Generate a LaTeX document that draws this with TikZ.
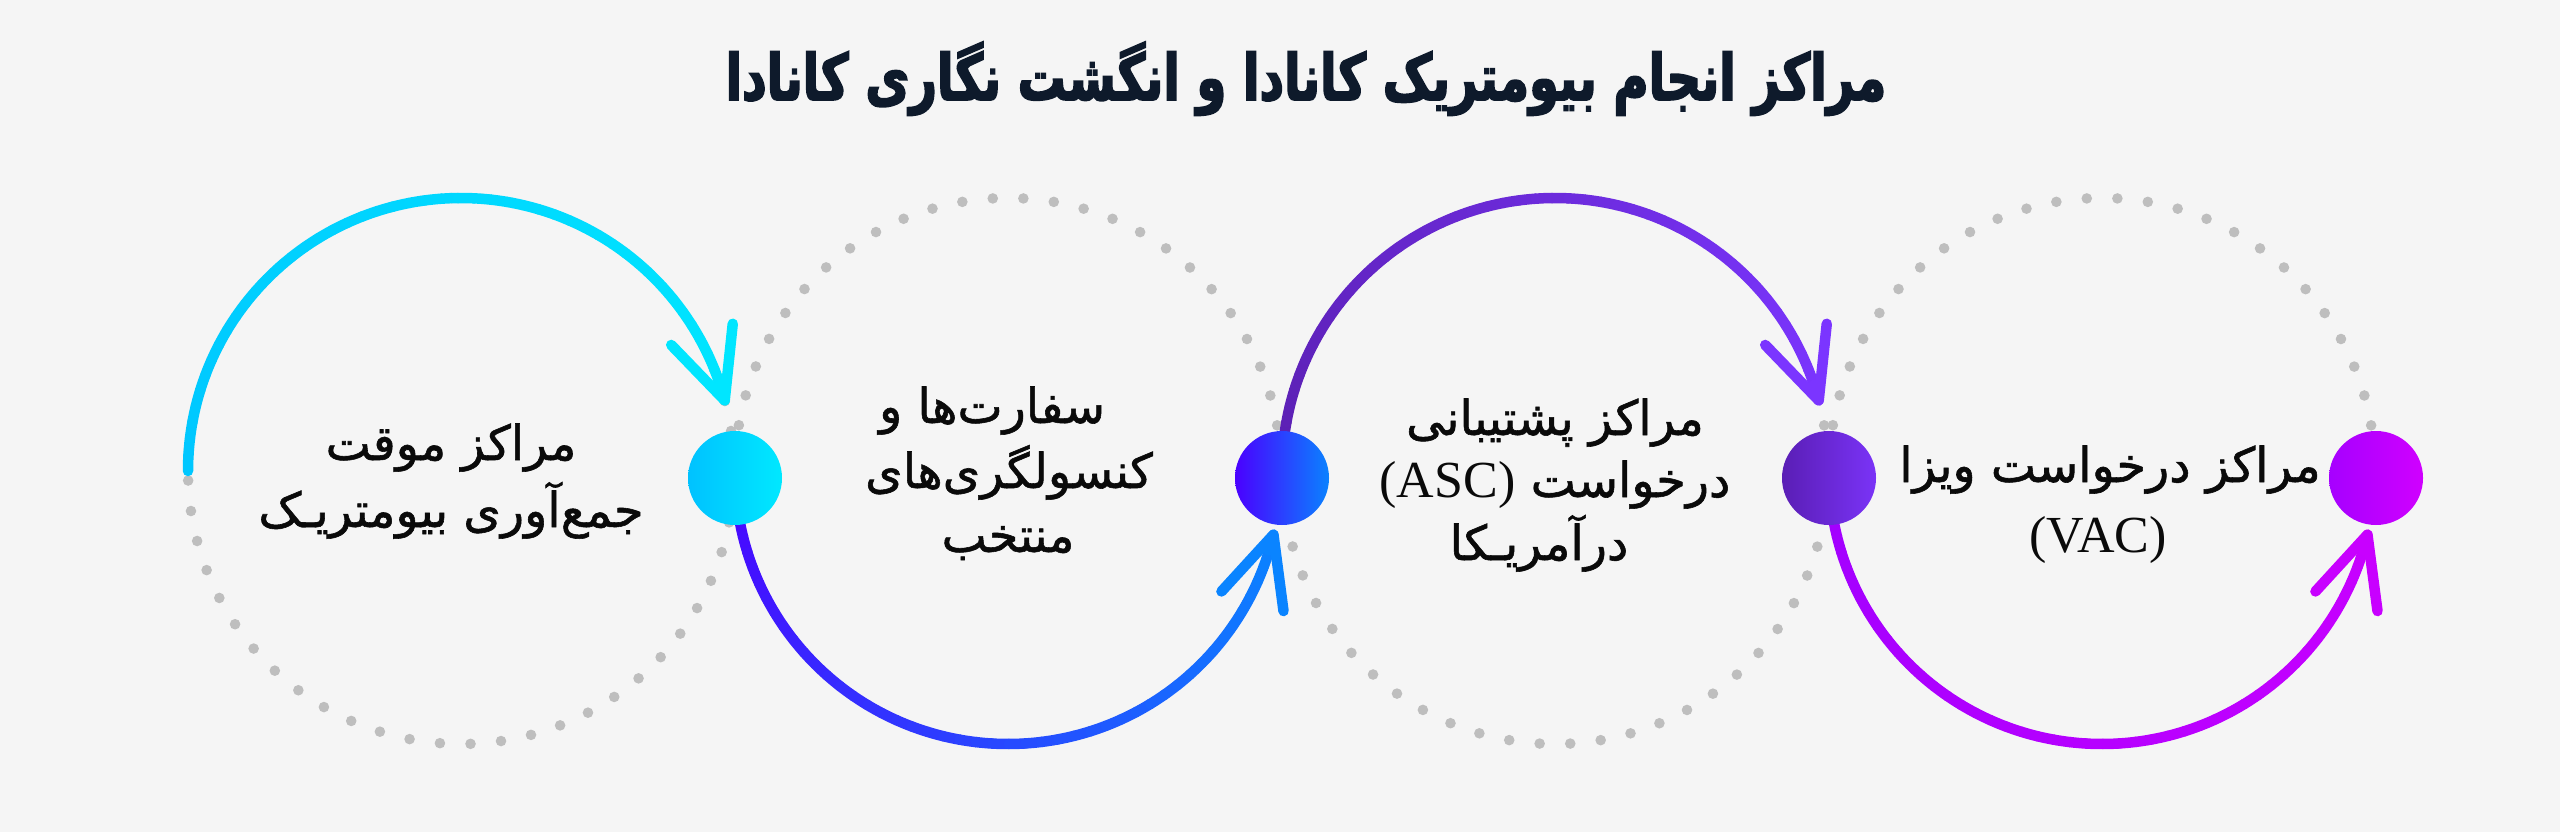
\documentclass[tikz,border=0pt]{standalone}
\usepackage{fontspec}
\usetikzlibrary{calc}
\TeXXeTstate=1
\newfontfamily\fa[Script=Arabic,FakeBold=1.2]{DejaVu Sans}
\newfontfamily\fatitle[Script=Arabic,FakeStretch=0.75,FakeBold=2.6]{DejaVu Sans}
\newfontfamily\lat{Liberation Serif}
\definecolor{bg}{HTML}{F5F5F5}
\definecolor{dotc}{HTML}{BEBEBE}
\definecolor{titlec}{HTML}{0E1A2B}
\definecolor{txtc}{HTML}{0A0A0A}
\definecolor{aA1}{HTML}{00C6FF}\definecolor{aA2}{HTML}{00E6FF}
\definecolor{aB1}{HTML}{4B00FF}\definecolor{aB2}{HTML}{0A84FF}
\definecolor{aC1}{HTML}{5A1FB0}\definecolor{aC2}{HTML}{7B35FF}
\definecolor{aD1}{HTML}{A000FF}\definecolor{aD2}{HTML}{C800FF}
\definecolor{nA1}{HTML}{00C2FF}\definecolor{nA2}{HTML}{00E8FF}
\definecolor{nB1}{HTML}{4A00FF}\definecolor{nB2}{HTML}{0A82FF}
\definecolor{nC1}{HTML}{5A1EB5}\definecolor{nC2}{HTML}{7A33F7}
\definecolor{nD1}{HTML}{A600FF}\definecolor{nD2}{HTML}{D000FF}
\tikzset{
  arcline/.style={line width=10.5pt, line cap=round, line join=round},
  dotnode/.style={circle, minimum size=94pt, inner sep=0pt},
  txt/.style={anchor=base, inner sep=0pt, text=txtc, font=\fa\fontsize{48}{58}\selectfont},
  lattxt/.style={font=\lat\fontsize{52}{58}\selectfont},
  ttl/.style={anchor=base, inner sep=0pt, text=titlec, font=\fatitle\bfseries\fontsize{64}{72}\selectfont},
}
% gradient arc: center, start angle, end angle, colour 1, colour 2
\newcommand{\gradarc}[5]{%
  \foreach \i in {1,...,48}{%
    \pgfmathsetmacro\aa{#2+(#3-#2)*(\i-1)/48}%
    \pgfmathsetmacro\bb{#2+(#3-#2)*\i/48}%
    \pgfmathtruncatemacro\pp{100*\i/48}%
    \draw[arcline,draw=#5!\pp!#4] ($(#1)+(\aa:273pt)$) arc[start angle=\aa,end angle=\bb,radius=273pt];
  }}
% open arrow head: tip, back angle, colour
\newcommand{\barbs}[3]{%
  \draw[arcline,draw=#3] ($(#1)+(#2+25:77pt)$) -- (#1) -- ($(#1)+(#2-25:77pt)$);}
\begin{document}
\begin{tikzpicture}[x=1pt,y=1pt]
\fill[bg] (0,0) rectangle (2560,-832);
\useasboundingbox (0,0) rectangle (2560,-832);
% circle centres
\coordinate (c1) at (461,-471);
\coordinate (c2) at (1008,-471);
\coordinate (c3) at (1555,-471);
\coordinate (c4) at (2102,-471);
% dotted circles
\foreach \c/\ph in {c1/2,c2/3.2,c3/3.2,c4/3.2}{
  \foreach \k in {0,...,55}{
    \fill[dotc] ($(\c)+(\k*6.4286+\ph:273pt)$) circle[radius=5.3pt];
  }}
% arc ends
\coordinate (s1) at ($(c1)+(180:273pt)$);
\coordinate (tip1) at ($(c1)+(15:273pt)$);
\coordinate (tip2) at ($(c2)+(-13.5:273pt)$);
\coordinate (tip3) at ($(c3)+(15:273pt)$);
\coordinate (tip4) at ($(c4)+(-13.5:273pt)$);
% arcs
\gradarc{c1}{180}{15}{aA1}{aA2}
\gradarc{c2}{180}{346.5}{aB1}{aB2}
\gradarc{c3}{180}{15}{aC1}{aC2}
\gradarc{c4}{180}{346.5}{aD1}{aD2}
\barbs{tip1}{109}{aA2}
\barbs{tip2}{-107.5}{aB2}
\barbs{tip3}{109}{aC2}
\barbs{tip4}{-107.5}{aD2}
% nodes
\node[dotnode, left color=nA1, right color=nA2] (n1) at (735,-478) {};
\node[dotnode, left color=nB1, right color=nB2] (n2) at (1282,-478) {};
\node[dotnode, left color=nC1, right color=nC2] (n3) at (1829,-478) {};
\node[dotnode, left color=nD1, right color=nD2] (n4) at (2376,-478) {};
% title
\node[ttl] (title) at (1306,-100) {\beginR مراکز انجام بیومتریک کانادا و انگشت نگاری کانادا\endR};
% texts
\node[txt] (t1a) at (451,-460) {\beginR مراکز موقت\endR};
\node[txt] (t1b) at (451,-527) {\beginR جمع‌آوری بیومتریـک\endR};
\node[txt] (t2a) at (992,-423) {\beginR سفارت‌ها و\endR};
\node[txt] (t2b) at (1009,-488) {\beginR کنسولگری‌های\endR};
\node[txt] (t2c) at (1008,-552) {\beginR منتخب\endR};
\node[txt] (t3a) at (1555,-435) {\beginR مراکز پشتیبانی\endR};
\node[txt] (t3b) at (1555,-497) {\beginR درخواست \beginL{\lat\fontsize{52}{58}\selectfont (ASC)}\endL\endR};
\node[txt] (t3c) at (1539,-560) {\beginR درآمریـکا\endR};
\node[txt] (t4a) at (2110,-482) {\beginR مراکز درخواست ویزا\endR};
\node[txt, lattxt] (t4b) at (2098,-552) {(VAC)};
\end{tikzpicture}
\end{document}
